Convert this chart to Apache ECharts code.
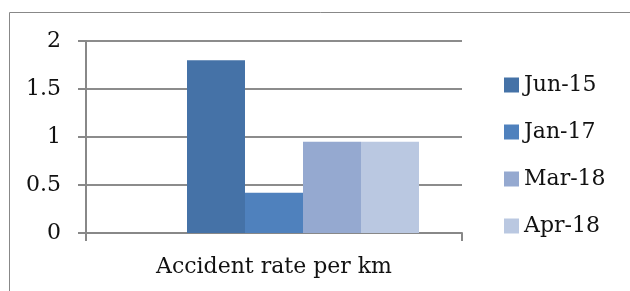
<!DOCTYPE html>
<html>
<head>
<meta charset="utf-8">
<script src="https://cdn.jsdelivr.net/npm/echarts@6/dist/echarts.min.js"></script>
<style>
  html, body { margin: 0; padding: 0; background: #fff; }
  #chart { width: 630px; height: 291px; }
</style>
</head>
<body>
<div id="chart"></div>
<script>
const categories = ['Accident rate per km']
const seriesNames = ['Jun-15', 'Jan-17', 'Mar-18', 'Apr-18']
const jun15 = [1.8]
const jan17 = [0.42]
const mar18 = [0.95]
const apr18 = [0.95]
const colors = ['#4572a7', '#4f81bd', '#95a9d0', '#bac8e1']

const FONT = 'DejaVu Serif'
const values = [jun15, jan17, mar18, apr18]

const chart = echarts.init(document.getElementById('chart'))

// the source chart keeps an empty first slot in the cluster, so bars sit right of centre
const series = [{
  name: 'blank',
  type: 'bar',
  data: categories.map(() => '-'),
  barWidth: 58,
  barGap: '0%',
}].concat(seriesNames.map((name, i) => ({
  name,
  type: 'bar',
  data: values[i],
  barWidth: 58,
  barGap: '0%',
  itemStyle: { color: colors[i] },
})))

chart.setOption({
  animation: false,
  graphic: [{
    type: 'rect',
    shape: { x: 9.5, y: 12.5, width: 700, height: 400 },
    style: { fill: 'none', stroke: '#888', lineWidth: 1 },
    silent: true,
  }],
  grid: { left: 86, right: 168, top: 41, bottom: 58 },
  legend: {
    data: seriesNames,
    orient: 'vertical',
    left: 504,
    top: 74,
    padding: 0,
    icon: 'rect',
    itemWidth: 15,
    itemHeight: 15,
    itemGap: 25,
    textStyle: { fontFamily: FONT, fontSize: 22, color: '#111' },
  },
  xAxis: {
    type: 'category',
    data: categories,
    axisLine: { lineStyle: { color: '#888', width: 2 } },
    axisTick: { show: true, length: 8, lineStyle: { color: '#888', width: 2 } },
    axisLabel: { fontFamily: FONT, fontSize: 22, color: '#111', margin: 23 },
  },
  yAxis: {
    type: 'value',
    min: 0,
    max: 2,
    interval: 0.5,
    axisLine: { show: true, lineStyle: { color: '#888', width: 2 } },
    axisTick: { show: true, length: 8, lineStyle: { color: '#888', width: 2 } },
    axisLabel: { fontFamily: FONT, fontSize: 22, color: '#111', margin: 25 },
    splitLine: { lineStyle: { color: '#8c8c8c', width: 2 } },
  },
  series,
})
</script>
</body>
</html>
